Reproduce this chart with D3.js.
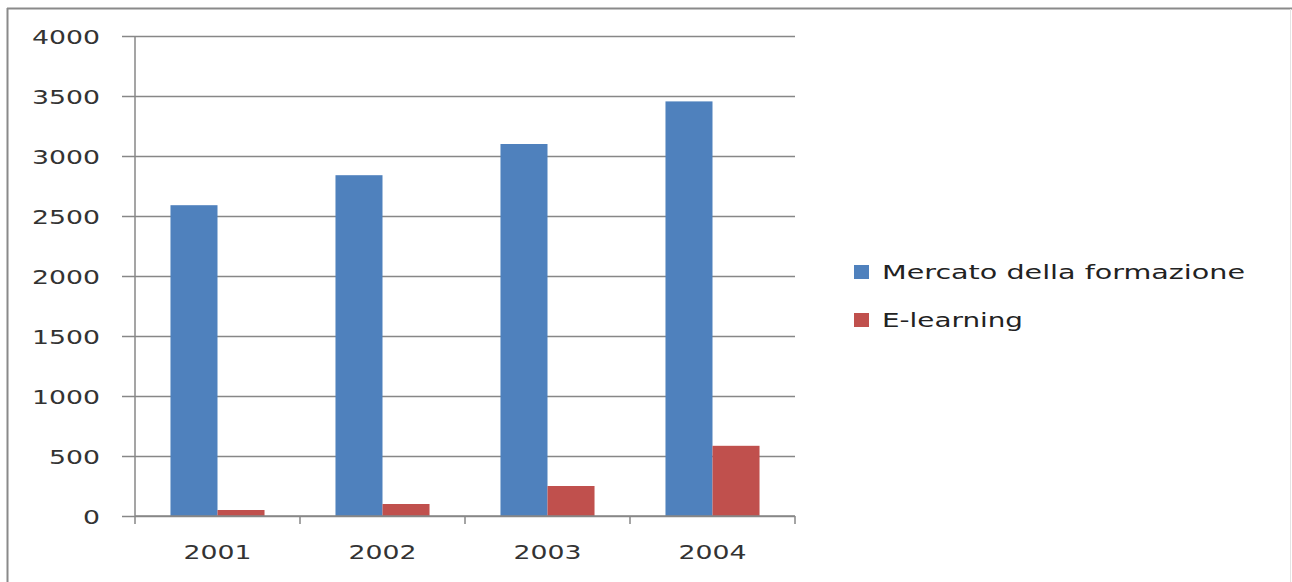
<!DOCTYPE html>
<html>
<head>
<meta charset="utf-8">
<script src="https://cdn.jsdelivr.net/npm/d3@7"></script>
<style>
  html, body { margin: 0; padding: 0; background: #fff; }
  svg { display: block; }
</style>
</head>
<body>
<svg id="chart" width="1292" height="582"></svg>
<script>
const categories = ["2001", "2002", "2003", "2004"];
const seriesNames = ["Mercato della formazione", "E-learning"];
const mercato = [2590, 2840, 3100, 3455];
const elearning = [50, 100, 250, 585];
const yTicks = [0, 500, 1000, 1500, 2000, 2500, 3000, 3500, 4000];
const colors = ["#4F81BD", "#C0504D"];

const svg = d3.select("#chart");
const W = 1292, H = 582;

// frame
svg.append("line").attr("x1", 7.5).attr("x2", 7.5).attr("y1", 8).attr("y2", H).attr("stroke", "#8a8a8a").attr("stroke-width", 2);
svg.append("line").attr("x1", 7).attr("x2", W).attr("y1", 8.5).attr("y2", 8.5).attr("stroke", "#8a8a8a").attr("stroke-width", 2);
svg.append("line").attr("x1", W - 1.5).attr("x2", W - 1.5).attr("y1", 9).attr("y2", H).attr("stroke", "#e4e4e4").attr("stroke-width", 1);

const margin = { left: 135, top: 36, right: 1292 - 795, bottom: 582 - 516 };
const w = W - margin.left - margin.right;
const h = H - margin.top - margin.bottom;
const g = svg.append("g").attr("transform", `translate(${margin.left},${margin.top})`);

const x0 = d3.scaleBand().domain(categories).range([0, w]).padding(0);
const bw = x0.bandwidth();
const x1 = d3.scaleBand().domain(seriesNames).range([bw * 0.215, bw * (1 - 0.215)]).padding(0);
const y = d3.scaleLinear().domain([0, 4000]).range([h, 0]);

const digitW = 17;
const fontFam = "'DejaVu Sans', sans-serif";

// y axis with gridlines
const yAxis = g.append("g").call(d3.axisLeft(y).tickValues(yTicks).tickSize(0).tickFormat(d3.format("d")));
yAxis.select(".domain").remove();
yAxis.selectAll(".tick line")
  .attr("x1", -13).attr("x2", w)
  .attr("stroke", "#878787").attr("stroke-width", 1.5);
yAxis.selectAll(".tick text")
  .attr("x", -35)
  .attr("dy", "0.36em")
  .attr("fill", "#333")
  .style("font-family", fontFam)
  .style("font-size", "20px")
  .attr("textLength", d => String(d).length * digitW)
  .attr("lengthAdjust", "spacingAndGlyphs");

// y axis vertical line
g.append("line").attr("x1", 0).attr("x2", 0).attr("y1", 0).attr("y2", h + 8)
  .attr("stroke", "#878787").attr("stroke-width", 1.5);

// bars
const data = categories.map((c, i) => ({ cat: c, vals: [mercato[i], elearning[i]] }));
const groups = g.selectAll(".grp").data(data).enter().append("g")
  .attr("transform", d => `translate(${x0(d.cat)},0)`);
groups.selectAll("rect").data(d => d.vals.map((v, k) => ({ v, k })))
  .enter().append("rect")
  .attr("x", d => x1(seriesNames[d.k]))
  .attr("width", x1.bandwidth())
  .attr("y", d => y(d.v))
  .attr("height", d => h - y(d.v))
  .attr("fill", d => colors[d.k]);

// x axis
const xAxis = g.append("g").attr("transform", `translate(0,${h})`)
  .call(d3.axisBottom(x0).tickSize(0).tickPadding(0));
xAxis.select(".domain").attr("d", `M0,0H${w}`).attr("stroke", "#878787").attr("stroke-width", 1.5);
xAxis.selectAll(".tick line").remove();
// category boundary ticks
const bounds = categories.map(c => x0(c) + bw);
g.selectAll(".xb").data(bounds).enter().append("line")
  .attr("x1", d => d).attr("x2", d => d)
  .attr("y1", h).attr("y2", h + 8)
  .attr("stroke", "#878787").attr("stroke-width", 1.5);
xAxis.selectAll(".tick text")
  .attr("y", 36)
  .attr("dy", "0.36em")
  .attr("fill", "#333")
  .style("font-family", fontFam)
  .style("font-size", "20px")
  .attr("textLength", d => d.length * digitW)
  .attr("lengthAdjust", "spacingAndGlyphs");

// legend
const legendY = [272, 320];
const legendW = [363, 141];
const leg = svg.append("g");
seriesNames.forEach((name, i) => {
  leg.append("rect").attr("x", 854).attr("y", legendY[i] - 7).attr("width", 15).attr("height", 14).attr("fill", colors[i]);
  leg.append("text").attr("x", 882).attr("y", legendY[i]).attr("dy", "0.36em")
    .attr("fill", "#222")
    .style("font-family", fontFam)
    .style("font-size", "19px")
    .attr("textLength", legendW[i])
    .attr("lengthAdjust", "spacingAndGlyphs")
    .text(name);
});
</script>
</body>
</html>
